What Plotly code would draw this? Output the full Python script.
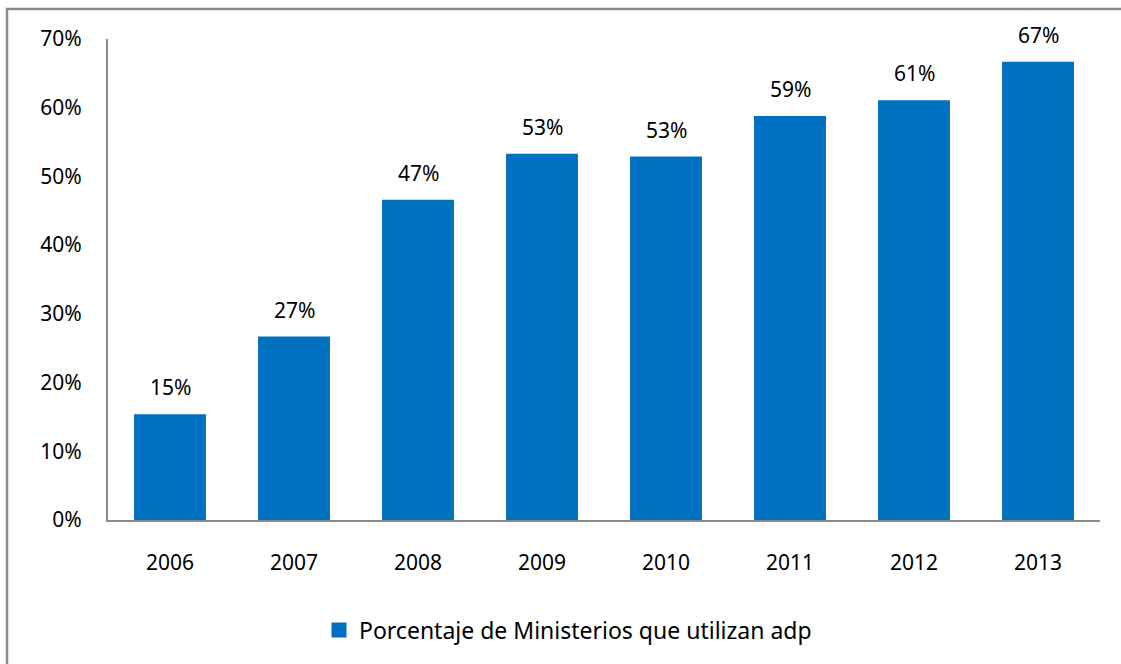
import plotly.graph_objects as go

years = ["2006", "2007", "2008", "2009", "2010", "2011", "2012", "2013"]
values = [15.4, 26.7, 46.6, 53.3, 52.9, 58.8, 61.1, 66.7]
series_name = "Porcentaje de Ministerios que utilizan adp"
ytick_vals = [0, 10, 20, 30, 40, 50, 60, 70]
ytick_text = [f"{v}%" for v in ytick_vals]

FONT = "'Noto Sans', 'Open Sans', sans-serif"
BLUE = "#0070C0"
AXIS = "#8c8c8c"
TXT = "#000000"

W, H = 1121, 664
L, R, T, B = 108, 21, 39, 144
pw, ph = W - L - R, H - T - B

fig = go.Figure()
fig.add_trace(go.Bar(
    x=years, y=values, name=series_name,
    marker=dict(color=BLUE, line=dict(width=0)),
    showlegend=False,
))
# legend entry with a larger square swatch
fig.add_trace(go.Scatter(
    x=[years[0]], y=[None], mode="markers", name=series_name,
    marker=dict(symbol="square", size=15, color=BLUE),
    showlegend=True,
))

for i, yv in enumerate(values):
    fig.add_annotation(
        x=i, y=yv, text=f"{round(yv):.0f}%", showarrow=False,
        yanchor="bottom", yshift=11,
        font=dict(family=FONT, size=21, color=TXT),
    )

# outer frame
fx0 = (7 - L) / pw
fx1 = (W + 3 - L) / pw
fy1 = (H - B - 9) / ph
fy0 = (H - B - (H + 3)) / ph
fig.add_shape(type="rect", xref="paper", yref="paper",
              x0=fx0, x1=fx1, y0=fy0, y1=fy1,
              line=dict(color="#8a8a8a", width=2.5), layer="below")

fig.update_layout(
    width=W, height=H,
    margin=dict(l=L, r=R, t=T, b=B, pad=0),
    paper_bgcolor="white", plot_bgcolor="white",
    font=dict(family=FONT, size=21, color=TXT),
    bargap=0.42,
    legend=dict(
        orientation="h", x=(568 - L) / pw, xanchor="center",
        y=(H - B - 630) / ph, yanchor="middle",
        font=dict(family=FONT, size=23, color=TXT),
        itemwidth=30,
    ),
    xaxis=dict(
        type="category", range=[-0.5, len(years) - 0.5],
        showgrid=False, showline=True, linecolor=AXIS, linewidth=2,
        ticks="", ticklabelstandoff=23, zeroline=False,
        tickfont=dict(family=FONT, size=21),
    ),
    yaxis=dict(
        range=[0, 70], tickvals=ytick_vals, ticktext=ytick_text,
        showgrid=False, showline=True, linecolor=AXIS, linewidth=2,
        ticks="", ticklabelstandoff=20, zeroline=False,
        tickfont=dict(family=FONT, size=21),
    ),
)

fig.write_html("out.html")
